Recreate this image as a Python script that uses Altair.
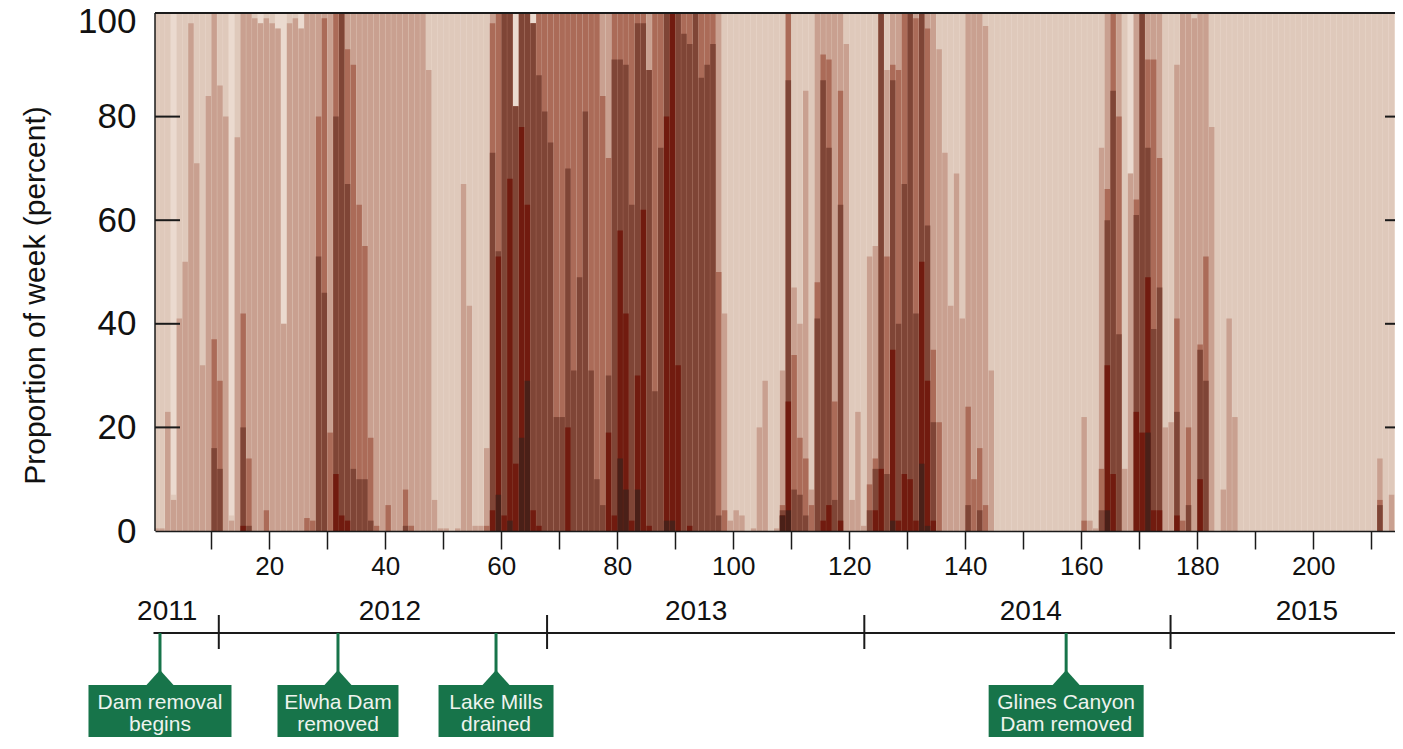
import altair as alt
import pandas as pd

# ---------------- data ----------------
weeks = list(range(1, 215))

# cumulative proportion of each week (percent) in class >= k (k = 1 lightest .. 6 darkest)
c1 = [
    100, 100, 100, 7, 100, 100, 100, 100, 100, 100,
    100, 100, 100, 3, 100, 100, 100, 100, 98, 100,
    100, 97, 40, 100, 100, 97, 100, 100, 100, 100,
    100, 100, 100, 100, 100, 100, 100, 100, 100, 100,
    100, 100, 100, 100, 100, 100, 100, 100, 100, 100,
    100, 100, 100, 100, 100, 100, 100, 100, 100, 100,
    100, 100, 82, 100, 100, 98, 100, 100, 100, 100,
    100, 100, 100, 100, 100, 100, 100, 100, 100, 100,
    100, 100, 100, 100, 100, 100, 100, 100, 100, 100,
    100, 100, 100, 100, 100, 100, 100, 100, 100, 100,
    100, 100, 100, 100, 100, 100, 100, 100, 100, 100,
    100, 100, 100, 100, 100, 100, 100, 100, 100, 100,
    100, 100, 100, 100, 100, 100, 100, 100, 100, 100,
    100, 100, 100, 100, 100, 100, 100, 100, 100, 100,
    100, 100, 100, 100, 100, 100, 100, 100, 100, 100,
    100, 100, 100, 100, 100, 100, 100, 100, 100, 100,
    100, 100, 100, 100, 100, 100, 100, 100, 69, 100,
    100, 100, 100, 100, 100, 100, 100, 100, 100, 100,
    100, 100, 100, 100, 100, 100, 100, 100, 100, 100,
    100, 100, 100, 100, 100, 100, 100, 100, 100, 100,
    100, 100, 100, 100, 100, 100, 100, 100, 100, 100,
    100, 100, 100, 100,
]
c2 = [
    0.5, 0.5, 23, 6, 41, 52, 98, 71, 32, 84,
    100, 86, 80, 2, 76, 100, 100, 99, 98, 99,
    98, 97, 40, 98, 99, 97, 100, 100, 100, 100,
    100, 100, 100, 100, 100, 100, 100, 100, 100, 100,
    100, 100, 100, 100, 100, 100, 100, 89, 6, 0.5,
    0.5, 0, 0.5, 67, 43.5, 1, 1, 16, 100, 100,
    100, 100, 82, 100, 100, 98, 100, 100, 100, 100,
    100, 100, 100, 100, 100, 100, 100, 100, 100, 100,
    100, 100, 100, 100, 100, 100, 100, 100, 100, 100,
    100, 100, 100, 100, 100, 100, 100, 100, 42, 2,
    4, 3, 0, 0.5, 20, 29, 0, 0.5, 31, 100,
    47, 40, 85, 8, 100, 100, 100, 100, 100, 94,
    6, 23, 1, 53, 55, 100, 89, 100, 100, 100,
    100, 100, 100, 100, 100, 93, 73, 43.5, 69, 41,
    100, 100, 100, 97.5, 31, 0, 0, 0, 0, 0,
    0, 0, 0, 0, 0, 0, 0, 0, 0, 0,
    22, 2, 0.5, 74, 100, 100, 100, 12, 69, 100,
    100, 100, 100, 100, 20, 21, 90, 100, 100, 99,
    100, 100, 78, 0, 8, 41, 22, 0, 0, 0,
    0, 0, 0, 0, 0, 0, 0, 0, 0, 0,
    0, 0, 0, 0, 0, 0, 0, 0, 0, 0,
    0, 14, 0, 7,
]
c3 = [
    0, 0, 0, 0, 0, 0, 0, 0, 0, 0,
    37, 29, 0, 0, 0, 42, 14, 0, 0, 4,
    0, 0, 0, 0, 0, 0, 2.5, 2, 80, 99,
    19, 100, 100, 93, 90, 63, 55, 18, 1, 0,
    5, 0, 0, 8, 1, 0, 0, 0, 0, 0,
    0, 0, 0, 0, 0, 0, 0, 1, 98, 100,
    100, 100, 82, 100, 100, 98, 100, 100, 100, 100,
    100, 100, 100, 100, 100, 100, 100, 84, 72, 100,
    100, 100, 100, 100, 100, 89, 100, 100, 100, 100,
    100, 100, 100, 100, 100, 100, 100, 50, 4, 0,
    0, 0, 0, 0, 0, 0, 0, 0, 5, 100,
    34, 18, 14, 5, 48, 92, 91, 25, 85, 0,
    0, 0, 0, 9, 14, 100, 53, 90, 89, 100,
    100, 99, 100, 97, 35, 21, 0, 0, 0, 0,
    24, 10, 16, 5, 0, 0, 0, 0, 0, 0,
    0, 0, 0, 0, 0, 0, 0, 0, 0, 0,
    2, 0, 0, 12, 66, 100, 80, 0, 0, 64,
    100, 91, 91, 72, 0, 0, 41, 2, 20, 0,
    36, 53, 0, 0, 0, 0, 0, 0, 0, 0,
    0, 0, 0, 0, 0, 0, 0, 0, 0, 0,
    0, 0, 0, 0, 0, 0, 0, 0, 0, 0,
    0, 6, 0, 0,
]
c4 = [
    0, 0, 0, 0, 0, 0, 0, 0, 0, 0,
    16, 12, 0, 0, 0, 20, 1, 0, 0, 0,
    0, 0, 0, 0, 0, 0, 0, 0, 53, 46,
    0, 80, 100, 67, 12, 10, 10, 2, 0, 0,
    0, 0, 0, 1, 0, 0, 0, 0, 0, 0,
    0, 0, 0, 0, 0, 0, 0, 0, 73, 54,
    100, 100, 82, 100, 100, 98, 88, 81, 75, 22,
    22, 70, 31, 49, 81, 31, 10, 5, 30, 91,
    91, 90, 63, 98, 98, 89, 27, 74, 100, 100,
    100, 96, 94, 100, 87.5, 90, 94, 3, 0, 0,
    0, 0, 0, 0, 0, 0, 0, 0, 4, 87,
    8, 7, 3, 0, 41, 87, 74, 6, 63, 0,
    0, 0, 0, 4, 12, 100, 11, 87, 40, 67,
    100, 42, 100, 59, 21, 0, 0, 0, 0, 0,
    5, 0, 4, 0, 0, 0, 0, 0, 0, 0,
    0, 0, 0, 0, 0, 0, 0, 0, 0, 0,
    0, 0, 0, 4, 60, 85, 38, 0, 0, 61,
    100, 74, 39, 47, 0, 0, 23, 0, 5, 0,
    35, 29, 0, 0, 0, 0, 0, 0, 0, 0,
    0, 0, 0, 0, 0, 0, 0, 0, 0, 0,
    0, 0, 0, 0, 0, 0, 0, 0, 0, 0,
    0, 5, 0, 0,
]
c5 = [
    0, 0, 0, 0, 0, 0, 0, 0, 0, 0,
    0, 0, 0, 0, 0, 1, 0, 0, 0, 0,
    0, 0, 0, 0, 0, 0, 0, 0, 0, 0,
    0, 11, 3, 2, 0, 0, 0, 0, 0, 0,
    0, 0, 0, 0, 0, 0, 0, 0, 0, 0,
    0, 0, 0, 0, 0, 0, 0, 0, 4, 53,
    3, 68, 13, 78, 63, 4, 1, 0, 0, 0,
    0, 20, 0, 0, 0, 0, 0, 0, 19, 3,
    58, 42, 2, 30, 62, 1, 0, 0, 80, 100,
    32, 0, 1, 0, 0, 0, 0, 0, 0, 0,
    0, 0, 0, 0, 0, 0, 0, 0, 3, 25,
    0, 0, 0, 0, 0, 2, 5, 0, 2, 0,
    0, 0, 0, 0, 4, 12, 0, 35, 2, 11,
    10, 2, 52, 29, 2, 0, 0, 0, 0, 0,
    0, 0, 0, 0, 0, 0, 0, 0, 0, 0,
    0, 0, 0, 0, 0, 0, 0, 0, 0, 0,
    0, 0, 0, 0, 32, 11, 0, 0, 0, 23,
    19, 49, 4, 4, 0, 0, 3, 0, 0, 0,
    10, 0, 0, 0, 0, 0, 0, 0, 0, 0,
    0, 0, 0, 0, 0, 0, 0, 0, 0, 0,
    0, 0, 0, 0, 0, 0, 0, 0, 0, 0,
    0, 0, 0, 0,
]
c6 = [
    0, 0, 0, 0, 0, 0, 0, 0, 0, 0,
    0, 0, 0, 0, 0, 0, 0, 0, 0, 0,
    0, 0, 0, 0, 0, 0, 0, 0, 0, 0,
    0, 0, 0, 0, 0, 0, 0, 0, 0, 0,
    0, 0, 0, 0, 0, 0, 0, 0, 0, 0,
    0, 0, 0, 0, 0, 0, 0, 0, 0, 7,
    0, 2, 0, 18, 29, 0, 0, 0, 0, 0,
    0, 0, 0, 0, 0, 0, 0, 0, 0, 0,
    14, 8, 0, 8, 0, 0, 0, 0, 2, 2,
    0, 0, 0, 0, 0, 0, 0, 0, 0, 0,
    0, 0, 0, 0, 0, 0, 0, 0, 3, 4,
    0, 0, 0, 0, 0, 0, 0, 0, 0, 0,
    0, 0, 0, 0, 0, 0, 0, 2, 0, 0,
    0, 0, 13, 1, 0, 0, 0, 0, 0, 0,
    0, 0, 0, 0, 0, 0, 0, 0, 0, 0,
    0, 0, 0, 0, 0, 0, 0, 0, 0, 0,
    0, 0, 0, 0, 4, 0, 0, 0, 0, 0,
    0, 19, 0, 0, 0, 0, 0, 0, 0, 0,
    0, 0, 0, 0, 0, 0, 0, 0, 0, 0,
    0, 0, 0, 0, 0, 0, 0, 0, 0, 0,
    0, 0, 0, 0, 0, 0, 0, 0, 0, 0,
    0, 0, 0, 0,
]

x_tick_values = [10, 20, 30, 40, 50, 60, 70, 80, 90, 100, 110,
                 120, 130, 140, 150, 160, 170, 180, 190, 200, 210]
y_tick_values = [0, 20, 40, 60, 80, 100]
y_inner_ticks = [20, 40, 60, 80]

years = ["2011", "2012", "2013", "2014", "2015"]
year_label_weeks = [2.4, 40.8, 93.6, 151.3, 198.9]
year_boundary_weeks = [11.3, 67.9, 122.6, 175.4]

event_labels = ["Dam removal\nbegins", "Elwha Dam\nremoved",
                "Lake Mills\ndrained", "Glines Canyon\nDam removed"]
event_weeks = [1.16, 31.85, 59.1, 157.4]

# ---------------- style ----------------
level_colors = ["#dfc9bb", "#c9a090", "#ab6b58", "#7f4536", "#711b0f", "#4a2018"]
lowest_class_color = "#ebdacf"
GREEN = "#17744a"
INK = "#1a1a1a"
FONT = "Liberation Sans"
box_widths_px = [143, 121, 115, 155]

W, H = 1240, 518
X0, X1 = 0.3, 214.1
px_per_week = W / (X1 - X0)

levels = [c1, c2, c3, c4, c5, c6]
for arr in levels:
    assert len(arr) == len(weeks)

records = []
for lv, vals in enumerate(levels, start=1):
    for wk, v in zip(weeks, vals):
        if v > 0:
            records.append({"week": wk, "level": lv, "value": v})
bars_df = pd.DataFrame(records)

xs = alt.Scale(domain=[X0, X1], nice=False, zero=False)
ys = alt.Scale(domain=[0, 100], nice=False, zero=True)

x_axis = alt.Axis(
    values=x_tick_values,
    labelExpr="datum.value % 20 === 0 ? datum.label : ''",
    tickSize=18, tickWidth=1.5, tickColor=INK,
    domainColor=INK, domainWidth=1.5,
    labelFontSize=26, labelFont=FONT, labelColor="#111",
    labelPadding=4, grid=False, title=None,
    labelFlush=False, labelOverlap=False, zindex=1)
y_axis = alt.Axis(
    values=y_tick_values, ticks=False, tickSize=0, domain=False,
    grid=False, labelFontSize=35, labelFont=FONT, labelColor="#111",
    labelPadding=19,
    labelOffset={"condition": {"test": "datum.value === 100", "value": 8}, "value": 0},
    title="Proportion of week (percent)",
    titleFont=FONT, titleFontSize=30, titleFontWeight="normal",
    titleColor="#111", titleAngle=270, titleX=-111, titleY=282,
    titleAlign="center", titleBaseline="alphabetic")

one = pd.DataFrame({"k": [0]})

plot_bg = alt.Chart(one).mark_rect(color=lowest_class_color).encode(
    x=alt.value(0), x2=alt.value(W), y=alt.value(0), y2=alt.value(H))

bars = alt.Chart(bars_df).transform_calculate(
    x_start="datum.week - 0.97", x_end="datum.week - 0.03"
).mark_rect(clip=True, strokeWidth=0).encode(
    x=alt.X("x_start:Q", scale=xs, axis=x_axis),
    x2="x_end:Q",
    y=alt.Y("value:Q", scale=ys, axis=y_axis),
    y2=alt.datum(0),
    color=alt.Color("level:O", scale=alt.Scale(domain=[1, 2, 3, 4, 5, 6],
                                               range=level_colors), legend=None),
    order=alt.Order("level:Q", sort="ascending"),
)

tick_df = pd.DataFrame({"v": y_inner_ticks})
left_ticks = alt.Chart(tick_df).mark_rule(color=INK, strokeWidth=2).encode(
    y=alt.Y("v:Q", scale=ys, axis=y_axis), x=alt.value(0), x2=alt.value(25))
right_ticks = alt.Chart(tick_df).mark_rule(color=INK, strokeWidth=2).encode(
    y=alt.Y("v:Q", scale=ys, axis=y_axis), x=alt.value(W - 10), x2=alt.value(W))

frame_df = pd.DataFrame({"v": [100]})
top_line = alt.Chart(frame_df).mark_rule(color=INK, strokeWidth=2).encode(
    y=alt.Y("v:Q", scale=ys, axis=y_axis), x=alt.value(0), x2=alt.value(W))
left_line = alt.Chart(one).mark_rule(color=INK, strokeWidth=1.5).encode(
    x=alt.value(0), y=alt.value(0), y2=alt.value(H))

timeline = alt.Chart(one).mark_rule(color=INK, strokeWidth=2).encode(
    x=alt.value(-1.5), x2=alt.value(W), y=alt.value(620))

yb_df = pd.DataFrame({"wk": year_boundary_weeks})
year_ticks = alt.Chart(yb_df).mark_rule(color=INK, strokeWidth=2).encode(
    x=alt.X("wk:Q", scale=xs, axis=x_axis), y=alt.value(602), y2=alt.value(636))

yl_df = pd.DataFrame({"wk": year_label_weeks, "year": years})
year_text = alt.Chart(yl_df).mark_text(
    font=FONT, fontSize=28, color="#111", baseline="middle", align="center"
).encode(x=alt.X("wk:Q", scale=xs, axis=x_axis), y=alt.value(599), text="year:N")

ev_df = pd.DataFrame({"wk": event_weeks, "label": event_labels,
                      "bw": box_widths_px})
stems = alt.Chart(ev_df).mark_rule(color=GREEN, strokeWidth=3).encode(
    x=alt.X("wk:Q", scale=xs, axis=x_axis), y=alt.value(620), y2=alt.value(660))
tris = alt.Chart(ev_df).mark_point(
    shape="M0,-0.556L1,0.556L-1,0.556Z", size=729, filled=True,
    color=GREEN, opacity=1, strokeWidth=0
).encode(x=alt.X("wk:Q", scale=xs, axis=x_axis), y=alt.value(664.5))
boxes = alt.Chart(ev_df).transform_calculate(
    lo=f"datum.wk - datum.bw / 2 / {px_per_week}",
    hi=f"datum.wk + datum.bw / 2 / {px_per_week}",
).mark_rect(color=GREEN).encode(
    x=alt.X("lo:Q", scale=xs, axis=x_axis), x2="hi:Q",
    y=alt.value(672), y2=alt.value(745))
box_text = alt.Chart(ev_df).mark_text(
    font=FONT, fontSize=21, color="#eef3ee", lineBreak="\n", lineHeight=22,
    baseline="middle", align="center"
).encode(x=alt.X("wk:Q", scale=xs, axis=x_axis), y=alt.value(690), text="label:N")

chart = alt.layer(
    plot_bg, bars, left_ticks, right_ticks, top_line, left_line,
    timeline, year_ticks, year_text, stems, tris, boxes, box_text
).properties(
    width=W, height=H,
    autosize=alt.AutoSizeParams(type="none"),
    padding={"left": 147, "top": 5, "right": 0, "bottom": 206},
).configure_view(
    stroke=None
).configure(background="white")

chart.save("out.html", embed_options={"renderer": "svg", "actions": False})
